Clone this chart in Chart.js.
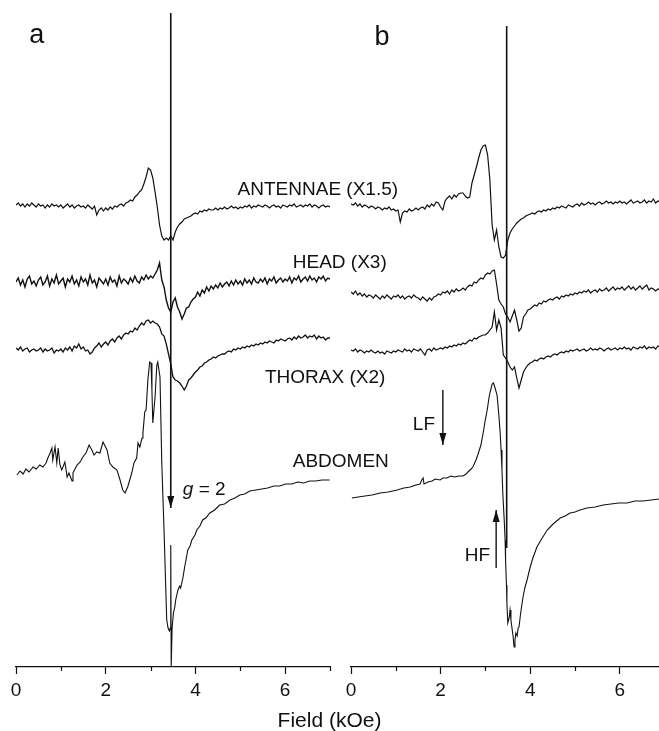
<!DOCTYPE html>
<html>
<head>
<meta charset="utf-8">
<title>EPR spectra</title>
<script src="https://cdn.jsdelivr.net/npm/chart.js@4.4.1/dist/chart.umd.min.js"></script>
<style>
  html, body { margin: 0; padding: 0; background: #fff; }
  #wrap { position: relative; width: 659px; height: 731px; }
  #wrap canvas { position: absolute; left: 0; top: 0; }
</style>
</head>
<body>
<div id="wrap">
  <canvas id="panel-a" width="659" height="731"></canvas>
  <canvas id="panel-b" width="659" height="731"></canvas>
</div>
<script>
// field sweep (kOe), one reading every 0.05 kOe
function sweep(start, step, count) {
    return Array.from({ length: count }, (_, i) => +(start + i * step).toFixed(2));
}
const fieldA = sweep(0, 0.05, 141);
const fieldB = sweep(0, 0.05, 139);

// vertical stacking of the traces (intensity units)
const baselineA = [460, 385, 317, 197];   // antennae, head, thorax, abdomen
const baselineB = [462, 375, 317, 169];

// ---- panel a ----
const antennaeA = [
    2, 4, 1, 3, 0, 3, 1, 4, 2, 0,
    3, 1, 2, -1, 2, 0, 3, 1, 2, 0,
    2, -1, 1, 3, 0, 2, -1, 1, 2, 0,
    1, -1, 2, 0, -2, 1, -8, -3, -1, -4,
    -1, -3, 0, -2, 1, 0, 2, 3, 1, 4,
    5, 7, 6, 10, 12, 15, 17, 23, 30, 39,
    37, 29, 15, 0, -18, -29, -33, -31, -33, -29,
    -33, -25, -20, -17, -15, -12, -11, -10, -9, -7,
    -6, -7, -4, -5, -3, -4, -2, -3, -3, -1,
    -3, -1, -2, 0, -2, -1, 1, -1, 0, -2,
    0, -1, 1, 0, 2, -1, 1, 0, 2, 1,
    0, 2, 1, -1, 1, 2, 0, 1, -1, 2,
    1, 0, 2, 1, 3, 0, 1, 2, 0, 2,
    1, 3, 0, 2, 1, -1, 1, 2, 0, 1,
    0
];
const headA = [
    0, 4, -3, 2, -5, 3, 6, -2, 1, -4,
    2, 5, -3, 0, 6, -4, 3, -1, 7, -2,
    1, 4, -5, 3, 0, 6, -2, 2, -4, 5,
    0, 3, -3, 7, -1, 2, -5, 4, 1, -2,
    3, -3, 5, 0, 2, -4, 6, -1, 3, 1,
    -2, 4, 0, 6, 1, -1, 5, 2, 7, 3,
    6, 4, 8, 12, 19, 2, -5, -18, -26, -30,
    -20, -16, -25, -30, -37, -32, -26, -25, -20, -17,
    -15, -10, -14, -8, -11, -5, -9, -4, -7, -3,
    -6, -1, -5, -2, 0, -4, 1, -3, 2, -2,
    1, -3, 3, -1, 2, -2, 4, 0, -1, 3,
    0, 4, -2, 3, 1, 5, -1, 2, 4, 0,
    3, 1, 5, -1, 4, 2, 6, 0, 3, 5,
    1, 6, 2, 4, 0, 5, 3, 6, 1, 4,
    3
];
const thoraxA = [
    2, 0, 3, -1, 1, 2, -2, 0, 1, -1,
    0, 2, -2, 1, -1, 0, 2, -3, 0, -1,
    1, -2, 2, 0, 3, -1, 4, 2, 6, 1,
    3, -1, 0, -4, -2, 2, 4, 7, 3, 6,
    8, 5, 9, 11, 8, 12, 14, 11, 15, 17,
    16, 19, 18, 22, 20, 24, 27, 25, 29, 30,
    27, 29, 27, 26, 23, 16, 14, 6, -4, -14,
    -27, -30, -31, -33, -36, -40, -36, -30, -28, -25,
    -22, -20, -17, -16, -13, -12, -10, -9, -7, -8,
    -6, -5, -4, -4, -2, -1, -2, 1, 0, 2,
    1, 3, 2, 4, 3, 5, 4, 6, 5, 7,
    6, 8, 7, 9, 8, 7, 10, 9, 11, 10,
    9, 11, 12, 10, 13, 11, 14, 12, 13, 15,
    12, 14, 13, 15, 11, 14, 12, 13, 10, 12,
    12
];
const abdomenFieldA = [
    0.02, 0.09, 0.16, 0.22, 0.29, 0.38, 0.45, 0.53, 0.60, 0.67,
    0.71, 0.76, 0.80, 0.82, 0.87, 0.91, 0.94, 0.98, 1.02, 1.09,
    1.14, 1.18, 1.25, 1.27, 1.36, 1.43, 1.49, 1.56, 1.63, 1.69,
    1.74, 1.80, 1.87, 1.94, 2.03, 2.09, 2.16, 2.25, 2.32, 2.38,
    2.43, 2.49, 2.58, 2.63, 2.69, 2.72, 2.76, 2.81, 2.83, 2.87,
    2.90, 2.94, 2.98, 3.01, 3.03, 3.05, 3.10, 3.14, 3.16, 3.21,
    3.23, 3.25, 3.30, 3.34, 3.36, 3.39, 3.42, 3.44, 3.45, 3.46,
    3.48, 3.51, 3.54, 3.56, 3.61, 3.65, 3.67, 3.72, 3.76, 3.79,
    3.83, 3.88, 3.92, 3.99, 4.03, 4.10, 4.16, 4.23, 4.32, 4.43,
    4.54, 4.65, 4.77, 4.88, 4.99, 5.10, 5.21, 5.35, 5.48, 5.61,
    5.75, 5.88, 6.01, 6.15, 6.28, 6.41, 6.55, 6.68, 6.82, 6.99
];
const abdomenA = [
    -5, -1, -4, 1, -2, 3, 1, 5, 3, 7,
    12, 17, 22, 10, 23, 7, 22, 5, 0, 8,
    -7, -3, -11, -3, 5, 8, 13, 17, 25, 20,
    15, 18, 17, 28, 20, 7, 3, 0, -10, -20,
    -23, -17, -3, 7, 12, 27, 23, 32, 37, 58,
    60, 90, 108, 107, 80, 47, 73, 105, 108, 93,
    50, 7, -60, -120, -150, -158, -161, -158, -75, -197,
    -158, -143, -137, -130, -120, -116, -118, -108, -97, -90,
    -80, -76, -70, -65, -60, -56, -50, -48, -43, -40,
    -35, -34, -30, -28, -25, -24, -21, -20, -19, -18,
    -16, -16, -14, -14, -12, -13, -11, -11, -10, -10
];

// ---- panel b ----
const antennaeB = [
    1, 0, 2, -1, 1, -2, 0, -1, -3, -1,
    -2, -4, -2, -3, -5, -3, -4, -2, -5, -4,
    -6, -5, -17, -8, -6, -7, -4, -6, -5, -3,
    -5, -3, -2, -4, 0, -2, 1, -1, 3, 2,
    -2, -5, 4, 7, 9, 6, 10, 8, 11, 12,
    12, 9, 7, 8, 22, 30, 38, 47, 55, 59,
    60, 50, 25, -20, -35, -25, -42, -52, -53, -50,
    -35, -28, -24, -21, -18, -16, -14, -13, -11, -10,
    -9, -8, -9, -7, -6, -7, -5, -6, -4, -5,
    -3, -4, -2, -3, -1, -2, -3, 0, -1, -2,
    0, 1, -1, 2, 0, 1, 3, 1, 2, 0,
    2, 3, 1, 2, 4, 2, 3, 1, 3, 2,
    4, 2, 3, 1, 3, 5, 2, 3, 4, 2,
    3, 5, 2, 4, 3, 6, 2, 4, 3
];
const headB = [
    0, -2, 1, -3, -1, -4, -2, -5, -3, -4,
    -6, -3, -5, -7, -4, -6, -3, -5, -7, -4,
    -5, -3, -6, -4, -7, -5, -4, -6, -3, -5,
    -6, -8, -5, -7, -9, -6, -8, -5, -4, -2,
    -3, 0, -1, 1, -2, 2, 0, 3, 1, 2,
    4, 2, 5, 7, 6, 10, 9, 12, 14, 13,
    17, 19, 18, 21, 22, 8, -8, -12, -15, -22,
    -25, -30, -24, -18, -28, -39, -36, -25, -22, -18,
    -17, -15, -13, -14, -11, -12, -9, -10, -8, -7,
    -8, -6, -5, -7, -4, -5, -3, -4, -2, -3,
    -1, -2, 0, -1, 1, 0, 2, -1, 1, 2,
    0, 3, 1, 2, 4, 1, 3, 5, 2, 4,
    3, 5, 2, 4, 6, 3, 5, 2, 4, 6,
    3, 5, 7, 2, 4, 3, 1, 3, 2
];
const thoraxB = [
    0, -1, 1, -2, 0, -1, -3, -1, -2, 0,
    -2, -3, -1, -3, -2, -4, -1, -2, -3, -1,
    -2, 0, -1, -2, 1, -1, 0, -2, 1, 0,
    -1, 1, -2, -5, 0, 1, -1, 2, 0, 1,
    2, 1, 3, 2, 4, 3, 5, 4, 6, 5,
    7, 6, 8, 10, 9, 12, 11, 13, 14, 15,
    15, 17, 20, 23, 38, 20, 30, 22, -5, -8,
    -12, -17, -20, -17, -28, -38, -30, -22, -18, -15,
    -13, -12, -10, -11, -9, -8, -9, -7, -6, -7,
    -5, -4, -5, -3, -2, -3, -1, -2, 0, -1,
    0, 1, -1, 0, 1, -1, 0, 2, 0, 1,
    0, 2, 1, -1, 1, 2, 0, 1, 2, 0,
    2, 1, 3, 1, 2, 0, 3, 2, 1, 3,
    2, 4, 1, 3, 2, 3, 1, 4, 3
];
const abdomenFieldB = [
    0.02, 0.16, 0.31, 0.47, 0.65, 0.83, 1.03, 1.18, 1.32, 1.45,
    1.54, 1.58, 1.61, 1.63, 1.72, 1.81, 1.88, 1.99, 2.05, 2.14,
    2.23, 2.32, 2.41, 2.50, 2.57, 2.61, 2.68, 2.72, 2.79, 2.83,
    2.90, 2.95, 2.99, 3.04, 3.08, 3.10, 3.15, 3.18, 3.21, 3.26,
    3.30, 3.33, 3.35, 3.37, 3.39, 3.42, 3.44, 3.45, 3.47, 3.48,
    3.50, 3.53, 3.55, 3.57, 3.59, 3.62, 3.64, 3.66, 3.68, 3.71,
    3.73, 3.75, 3.79, 3.84, 3.88, 3.93, 4.00, 4.06, 4.15, 4.24,
    4.38, 4.51, 4.67, 4.78, 4.89, 5.00, 5.11, 5.27, 5.45, 5.63,
    5.80, 5.98, 6.16, 6.34, 6.52, 6.70, 6.88
];
const abdomenB = [
    0, 1, 2, 3, 5, 6, 8, 10, 11, 13,
    14, 18, 20, 14, 16, 17, 19, 18, 20, 20,
    22, 21, 22, 22, 24, 26, 29, 31, 38, 43,
    53, 65, 76, 88, 100, 105, 114, 115, 111, 103,
    83, 65, 48, 28, 3, -22, -42, -62, -87, -105,
    -125, -120, -112, -122, -129, -139, -149, -142, -135, -138,
    -130, -129, -114, -99, -90, -82, -69, -60, -49, -42,
    -32, -26, -20, -18, -15, -14, -12, -10, -9, -7,
    -6, -5, -5, -3, -3, -2, -1
];

// marker lines and arrows: field (kOe), levels (intensity units)
const gMarkField = [3.45, 3.45];
const gMarkLevel = [654, 159];
const lineBField = [3.475, 3.475];
const lineBLevel = [641, 119];
const lfField = [2.05, 2.05];
const lfLevel = [277, 222];
const hfField = [3.24, 3.24];
const hfLevel = [99, 157];

const INK = '#111111';
const FONT = "'Liberation Sans', Arial, Helvetica, sans-serif";

function series(fields, values, offset) {
    return fields.map((f, i) => ({ x: f, y: offset + values[i] }));
}

function trace(data, width, extra) {
    return Object.assign({
        data: data,
        borderColor: INK,
        borderWidth: width,
        pointRadius: 0,
        tension: 0,
        fill: false
    }, extra || {});
}

// arrowheads, short minor ticks, annotations and the shared axis title
const decorations = {
    id: 'decorations',
    afterDatasetsDraw(chart, args, opts) {
        const ctx = chart.ctx;
        const xs = chart.scales.x;
        const ys = chart.scales.y;
        ctx.save();
        ctx.fillStyle = INK;
        ctx.strokeStyle = INK;

        chart.data.datasets.forEach((ds, i) => {
            if (!ds.arrow) return;
            const pts = chart.getDatasetMeta(i).data;
            const tip = pts[pts.length - 1];
            const tail = pts[pts.length - 2];
            const dir = Math.sign(tip.y - tail.y);
            ctx.beginPath();
            ctx.moveTo(tip.x, tip.y);
            ctx.lineTo(tip.x - 3.5, tip.y - dir * 12);
            ctx.lineTo(tip.x + 3.5, tip.y - dir * 12);
            ctx.closePath();
            ctx.fill();
        });

        // odd kOe values get a shorter tick
        ctx.lineWidth = 1.2;
        xs.ticks.forEach(t => {
            if (t.value % 2 === 0) return;
            const x = Math.round(xs.getPixelForValue(t.value)) + 0.5;
            ctx.beginPath();
            ctx.moveTo(x, xs.top);
            ctx.lineTo(x, xs.top + 4);
            ctx.stroke();
        });

        ctx.textBaseline = 'alphabetic';
        (opts.labels || []).forEach(l => {
            const size = l.size || 19;
            const parts = l.parts || [{ text: l.text }];
            let x = xs.getPixelForValue(l.field);
            const y = ys.getPixelForValue(l.level);
            ctx.textAlign = 'left';
            if (l.align === 'center') {
                ctx.font = size + 'px ' + FONT;
                x -= ctx.measureText(parts.map(p => p.text).join('')).width / 2;
            }
            parts.forEach(p => {
                ctx.font = (p.italic ? 'italic ' : '') + size + 'px ' + FONT;
                ctx.fillText(p.text, x, y);
                x += ctx.measureText(p.text).width;
            });
        });

        if (opts.title) {
            ctx.font = '21px ' + FONT;
            ctx.textAlign = 'center';
            ctx.fillText(opts.title, chart.width / 2, chart.height - 4);
        }
        ctx.restore();
    }
};

function panelOptions(xMax, padLeft, padRight, deco) {
    return {
        responsive: false,
        animation: false,
        events: [],
        layout: { padding: { left: padLeft, right: padRight, top: 0, bottom: 0 } },
        plugins: {
            legend: { display: false },
            tooltip: { enabled: false },
            decorations: deco
        },
        scales: {
            x: {
                type: 'linear',
                min: 0,
                max: xMax,
                afterFit(scale) { scale.height = 64; },
                border: { display: true, color: INK, width: 1.2 },
                grid: {
                    drawOnChartArea: false,
                    drawTicks: true,
                    tickLength: 7,
                    tickWidth: 1.2,
                    // only even kOe values carry the long tick
                    tickColor: c => (c.tick && c.tick.value % 2 === 0 ? INK : 'rgba(0,0,0,0)')
                },
                ticks: {
                    stepSize: 1,
                    includeBounds: false,
                    autoSkip: false,
                    maxRotation: 0,
                    padding: 5,
                    color: INK,
                    font: { family: FONT, size: 19 },
                    callback: v => (v % 2 === 0 ? v : '')
                }
            },
            y: { display: false, min: 0, max: 667 }
        }
    };
}

new Chart(document.getElementById('panel-a'), {
    type: 'line',
    data: {
        datasets: [
            trace(series(fieldA, antennaeA, baselineA[0]), 1.2),
            trace(series(fieldA, headA, baselineA[1]), 1.4),
            trace(series(fieldA, thoraxA, baselineA[2]), 1.3),
            trace(series(abdomenFieldA, abdomenA, baselineA[3]), 1.1),
            trace(series(gMarkField, gMarkLevel, 0), 1.6, { arrow: true })
        ]
    },
    options: panelOptions(7, 16, 329, {
        title: 'Field (kOe)',
        labels: [
            { text: 'a', field: 0.46, level: 624, size: 27, align: 'center' },
            { text: 'ANTENNAE (X1.5)', field: 4.94, level: 472 },
            { text: 'HEAD (X3)', field: 6.17, level: 399 },
            { text: 'THORAX (X2)', field: 5.55, level: 284 },
            { text: 'ABDOMEN', field: 6.17, level: 200 },
            { parts: [{ text: 'g', italic: true }, { text: ' = 2' }], field: 3.72, level: 172 }
        ]
    }),
    plugins: [decorations]
});

new Chart(document.getElementById('panel-b'), {
    type: 'line',
    data: {
        datasets: [
            trace(series(fieldB, antennaeB, baselineB[0]), 1.2),
            trace(series(fieldB, headB, baselineB[1]), 1.2),
            trace(series(fieldB, thoraxB, baselineB[2]), 1.2),
            trace(series(abdomenFieldB, abdomenB, baselineB[3]), 1.1),
            trace(series(lineBField, lineBLevel, 0), 1.6),
            trace(series(lfField, lfLevel, 0), 1.4, { arrow: true }),
            trace(series(hfField, hfLevel, 0), 1.4, { arrow: true })
        ]
    },
    options: panelOptions(6.875, 351, 0, {
        labels: [
            { text: 'b', field: 0.69, level: 622, size: 27, align: 'center' },
            { text: 'LF', field: 1.38, level: 237 },
            { text: 'HF', field: 2.54, level: 106 }
        ]
    }),
    plugins: [decorations]
});
</script>
</body>
</html>
